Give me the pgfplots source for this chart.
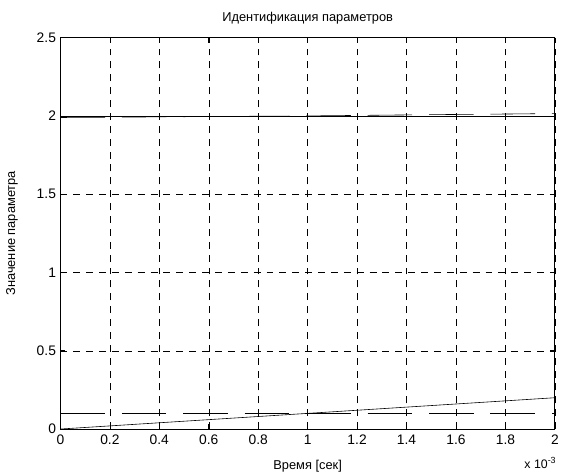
\documentclass[border=0pt]{standalone}
\usepackage{fontspec}
\setmainfont{Liberation Sans}
\usepackage{pgfplots}
\pgfplotsset{compat=1.18}
\begin{document}
\begin{tikzpicture}
\begin{axis}[
  scale only axis, width=499bp, height=395bp,
  xmin=0, xmax=2, ymin=0, ymax=2.5,
  xtick={0,0.2,0.4,0.6,0.8,1,1.2,1.4,1.6,1.8,2},
  ytick={0,0.5,1,1.5,2,2.5},
  xtick pos=both, ytick pos=both, tick align=inside,
  major tick length=5bp,
  grid=major,
  grid style={black, line width=0.5bp, dash pattern=on 7bp off 6bp},
  axis line style={black, line width=0.8bp},
  tick style={black, line width=0.6bp},
  font=\fontsize{13}{15}\selectfont,
  tick label style={font=\fontsize{14}{16}\selectfont},
  /pgf/number format/assume math mode=true,
  xticklabel style={/pgf/number format/fixed, yshift=-2bp},
  yticklabel style={xshift=-1bp},
  title={Идентификация параметров},
  xlabel={Время [сек]},
  ylabel={Значение параметра},
  ylabel style={at={(axis description cs:0,0.5)}, anchor=center, yshift=49bp},
  xlabel style={at={(axis description cs:0.5,0)}, anchor=center, yshift=-37bp},
  title style={at={(axis description cs:0.5,1)}, anchor=center, yshift=14bp},
]
\addplot[black, line width=0.6bp] coordinates {(0,2) (2,2)};
\addplot[black, line width=0.6bp, dash pattern=on 45bp off 17bp] coordinates {(0,1.99) (0.5,1.995) (1,2.0) (1.5,2.008) (2,2.015)};
\addplot[black, line width=0.6bp, dash pattern=on 45bp off 17bp] coordinates {(0,0.1) (2,0.1)};
\addplot[black, line width=0.6bp] coordinates {(0,0) (2,0.2)};
\end{axis}
\node[anchor=base east, font=\fontsize{12.5}{14}\selectfont, inner sep=0pt] at ([xshift=1bp,yshift=-40bp]current axis.south east) {x 10\raisebox{5bp}{\fontsize{9}{10}\selectfont -3}};
\path[use as bounding box] ([xshift=-61bp,yshift=-42bp]current axis.south west) rectangle ([xshift=2bp,yshift=38bp]current axis.north east);
\end{tikzpicture}
\end{document}
